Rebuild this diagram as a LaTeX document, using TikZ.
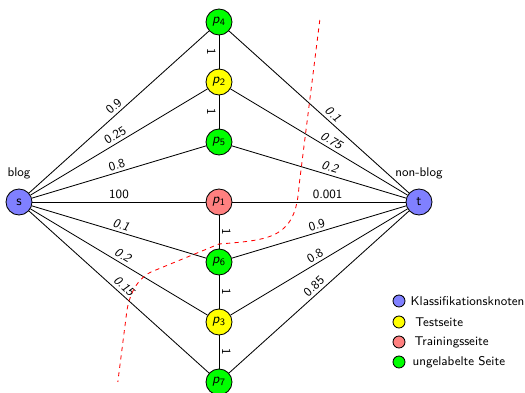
\documentclass[tikz,border=0pt]{standalone}
\usepackage{amsmath, amssymb}
\usepackage{xcolor}
\usepackage{tikz}
\usetikzlibrary{positioning}
\definecolor{klassblau}{HTML}{8080FF}
\definecolor{trainrot}{HTML}{FF8080}
\definecolor{testgelb}{HTML}{FFFF00}
\definecolor{unlabgruen}{HTML}{00FF00}
\newcommand{\pknoten}[1]{\textit{p}\textsubscript{#1}}

\begin{document}
\begin{tikzpicture}[font=\sffamily, semithick,
        knoten/.style={circle, draw, minimum size=0.65cm, inner sep=0pt, fill=#1},
        gewicht/.style={midway, sloped, above, font=\sffamily\small, inner sep=2pt},
        kursiv/.style={gewicht, font=\sffamily\small\itshape},
        eins/.style={midway, sloped, font=\sffamily\small, inner sep=2pt},
        legende/.style={circle, draw, minimum size=0.3cm, inner sep=0pt, fill=#1},
        legtext/.style={right=0.12cm of #1, font=\sffamily\small, inner sep=0pt}
    ]
        \useasboundingbox (-0.475,-4.775) rectangle (12.65,5.05);
        \node[knoten=klassblau, label={[label distance=0.12cm, font=\sffamily\small]above:blog}] (s) at (0,0) {s};
        \node[knoten=klassblau, label={[label distance=0.12cm, font=\sffamily\small]above:non-blog}] (t) at (10,0) {t};
        \node[knoten=unlabgruen] (p4) at (5,4.5)  {\pknoten{4}};
        \node[knoten=testgelb]   (p2) at (5,3)    {\pknoten{2}};
        \node[knoten=unlabgruen] (p5) at (5,1.5)  {\pknoten{5}};
        \node[knoten=trainrot]   (p1) at (5,0)    {\pknoten{1}};
        \node[knoten=unlabgruen] (p6) at (5,-1.5) {\pknoten{6}};
        \node[knoten=testgelb]   (p3) at (5,-3)   {\pknoten{3}};
        \node[knoten=unlabgruen] (p7) at (5,-4.5) {\pknoten{7}};

        \draw (s) -- node[gewicht] {0.9} (p4);
        \draw (s) -- node[gewicht] {0.25} (p2);
        \draw (s) -- node[gewicht] {0.8} (p5);
        \draw (s) -- node[gewicht] {100} (p1);
        \draw (s) -- node[kursiv] {0.1} (p6);
        \draw (s) -- node[kursiv] {0.2} (p3);
        \draw (s) -- node[kursiv] {0.15} (p7);

        \draw (p4) -- node[kursiv, pos=0.55] {0.1} (t);
        \draw (p2) -- node[kursiv, pos=0.55] {0.75} (t);
        \draw (p5) -- node[kursiv, pos=0.55] {0.2} (t);
        \draw (p1) -- node[gewicht, pos=0.55] {0.001} (t);
        \draw (p6) -- node[gewicht] {0.9} (t);
        \draw (p3) -- node[gewicht] {0.8} (t);
        \draw (p7) -- node[gewicht] {0.85} (t);

        \draw (p4) -- node[eins, below] {1} (p2);
        \draw (p2) -- node[eins, below] {1} (p5);
        \draw (p1) -- node[eins, above] {1} (p6);
        \draw (p6) -- node[eins, above] {1} (p3);
        \draw (p3) -- node[eins, above] {1} (p7);

        \draw[red, dashed] (7.52,4.55) -- (7.0,0.4)
            .. controls (6.92,-0.9) and (6.3,-0.95) .. (5.0,-1.05)
            -- (3.3,-1.75)
            .. controls (2.9,-1.95) and (2.75,-2.4) .. (2.7,-2.7)
            -- (2.47,-4.5);

        \node[legende=klassblau]  (l1) at (9.5,-2.475) {};
        \node[legende=testgelb]   (l2) at (9.5,-3.0)   {};
        \node[legende=trainrot]   (l3) at (9.5,-3.5)   {};
        \node[legende=unlabgruen] (l4) at (9.5,-4.0)   {};
        \node[legtext=l1] (t1) {Klassifikationsknoten};
        \node[legtext=l2, xshift=0.12cm] (t2) {Testseite};
        \node[legtext=l3, xshift=0.1cm] (t3) {Trainingsseite};
        \node[legtext=l4, xshift=0.05cm] (t4) {ungelabelte Seite};
    \end{tikzpicture}
\end{document}
